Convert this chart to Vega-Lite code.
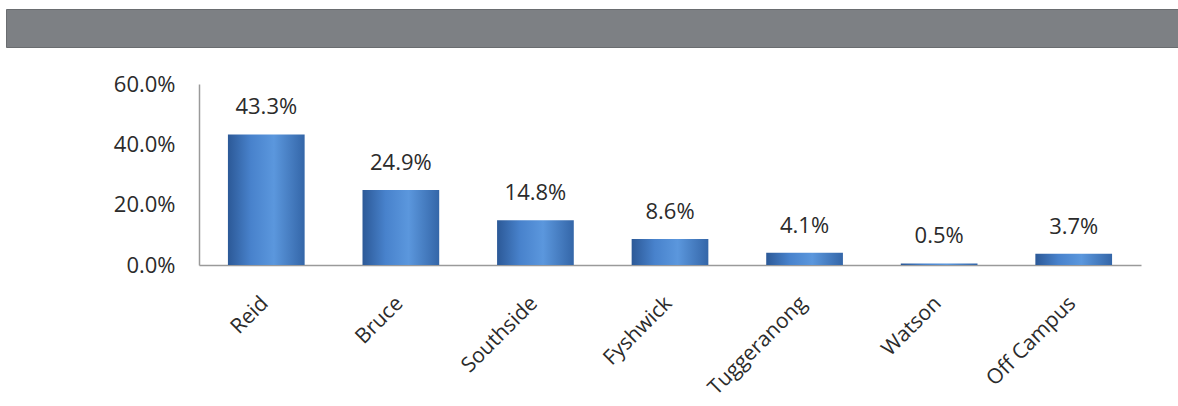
{
  "$schema": "https://vega.github.io/schema/vega-lite/v6.json",
  "padding": {"left": 5, "top": 8, "right": 0, "bottom": 0},
  "background": "white",
  "spacing": 25,
  "config": {"font": "Open Sans", "view": {"stroke": null}},
  "vconcat": [
    {
      "width": 1173,
      "height": 38,
      "view": {"fill": "#7d8084", "stroke": "#6a6d70"},
      "data": {"values": [{"label": ""}]},
      "mark": {"type": "text"},
      "encoding": {"text": {"field": "label"}}
    },
    {
      "width": 1135,
      "height": 181,
      "data": {
        "values": [
          {"location": "Reid", "share": 0.433},
          {"location": "Bruce", "share": 0.249},
          {"location": "Southside", "share": 0.148},
          {"location": "Fyshwick", "share": 0.086},
          {"location": "Tuggeranong", "share": 0.041},
          {"location": "Watson", "share": 0.005},
          {"location": "Off Campus", "share": 0.037}
        ]
      },
      "encoding": {
        "x": {
          "field": "location",
          "type": "nominal",
          "sort": null,
          "scale": {"paddingInner": 0.43, "paddingOuter": 0.215, "range": [193, 1135]},
          "axis": {
            "title": null,
            "labelAngle": -45,
            "labelBaseline": "bottom",
            "labelFontSize": 21,
            "labelColor": "#2b2b2b",
            "labelPadding": 42,
            "labelOffset": 6,
            "ticks": false,
            "domainColor": "#9a9a9a",
            "domainWidth": 1.5
          }
        },
        "y": {
          "field": "share",
          "type": "quantitative",
          "scale": {"domain": [0, 0.6]},
          "axis": {
            "title": null,
            "values": [0, 0.2, 0.4, 0.6],
            "format": ".1%",
            "grid": false,
            "ticks": false,
            "offset": -193,
            "labelFontSize": 22,
            "labelColor": "#2b2b2b",
            "labelPadding": 24,
            "domainColor": "#9a9a9a",
            "domainWidth": 1.5
          }
        }
      },
      "layer": [
        {
          "mark": {
            "type": "bar",
            "color": {
              "gradient": "linear",
              "x1": 0, "x2": 1, "y1": 0, "y2": 0,
              "stops": [
                {"offset": 0, "color": "#2c5997"},
                {"offset": 0.3, "color": "#4882cc"},
                {"offset": 0.6, "color": "#5b97dd"},
                {"offset": 1, "color": "#3466a8"}
              ]
            }
          }
        },
        {
          "mark": {"type": "text", "baseline": "bottom", "dy": -15, "fontSize": 22, "color": "#2b2b2b"},
          "encoding": {"text": {"field": "share", "type": "quantitative", "format": ".1%"}}
        }
      ]
    }
  ]
}
